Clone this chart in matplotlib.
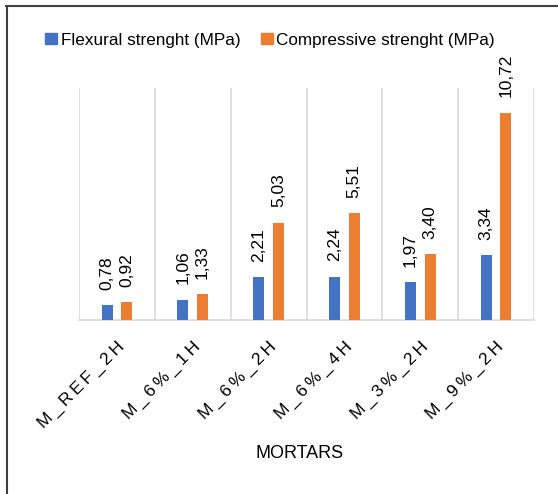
import numpy as np
import matplotlib
matplotlib.use("Agg")
import matplotlib.pyplot as plt
from matplotlib.lines import Line2D
from matplotlib.patches import Patch

plt.rcParams['font.family'] = ['Liberation Sans', 'DejaVu Sans']

# --- DATA ---
mortars = ['M_REF_2H', 'M_6%_1H', 'M_6%_2H', 'M_6%_4H', 'M_3%_2H', 'M_9%_2H']
flexural = [0.78, 1.06, 2.21, 2.24, 1.97, 3.34]
compressive = [0.92, 1.33, 5.03, 5.51, 3.40, 10.72]

BLUE = '#4472C4'
ORANGE = '#ED7D31'
GRID = '#D9D9D9'
FS = 12.5

W, H = 558, 494
fig = plt.figure(figsize=(W / 100, H / 100), dpi=100)
ax = fig.add_axes([79 / W, 1 - 320 / H, (534 - 79) / W, (320 - 88) / H])

x = np.arange(len(mortars))
off = 0.13
bw = 0.145
b1 = ax.bar(x - off, flexural, bw, color=BLUE, zorder=3)
b2 = ax.bar(x + off, compressive, bw, color=ORANGE, zorder=3)

def fmt(v):
    return f"{v:.2f}".replace('.', ',')

for bars, vals in ((b1, flexural), (b2, compressive)):
    for r, v in zip(bars, vals):
        ax.annotate(fmt(v), (r.get_x() + r.get_width() / 2, v),
                    xytext=(0, 11), textcoords='offset points',
                    rotation=90, ha='center', va='bottom', fontsize=FS)

ax.set_xlim(-0.5, len(mortars) - 0.5)
ax.set_ylim(0, 12)
ax.set_yticks([])

# category separators
ax.set_xticks(np.arange(-0.5, len(mortars)), minor=True)
ax.grid(True, which='minor', axis='x', color=GRID, linewidth=1.2, zorder=0)
ax.tick_params(which='minor', length=0)

# spread the rotated category names out a little (thin spaces)
spaced = ['\u2009'.join(m) for m in mortars]
ax.set_xticks(x)
ax.set_xticklabels(spaced, rotation=45, ha='right', rotation_mode='anchor', fontsize=FS)
ax.tick_params(axis='x', which='major', length=0, pad=14)

for s in ('top', 'right', 'left'):
    ax.spines[s].set_visible(False)
ax.spines['bottom'].set_color(GRID)
ax.spines['bottom'].set_linewidth(1.2)

fig.text(300 / W, 1 - 453 / H, 'MORTARS', ha='center', va='center', fontsize=13)

handles = [Patch(color=BLUE), Patch(color=ORANGE)]
fig.legend(handles, ['Flexural strenght (MPa)', 'Compressive strenght (MPa)'],
           loc='center', bbox_to_anchor=(270 / W, 1 - 40 / H), ncol=2, frameon=False,
           fontsize=12.3, handlelength=0.7, handleheight=0.7, handletextpad=0.2,
           columnspacing=1.2)

# outer frame (left and top edges)
fig.add_artist(Line2D([6.5 / W, 6.5 / W], [0, 1 - 6 / H], color='#404040', linewidth=1.5))
fig.add_artist(Line2D([6 / W, 1], [1 - 6.5 / H, 1 - 6.5 / H], color='#404040', linewidth=1.5))

fig.savefig('out.png', dpi=100)
